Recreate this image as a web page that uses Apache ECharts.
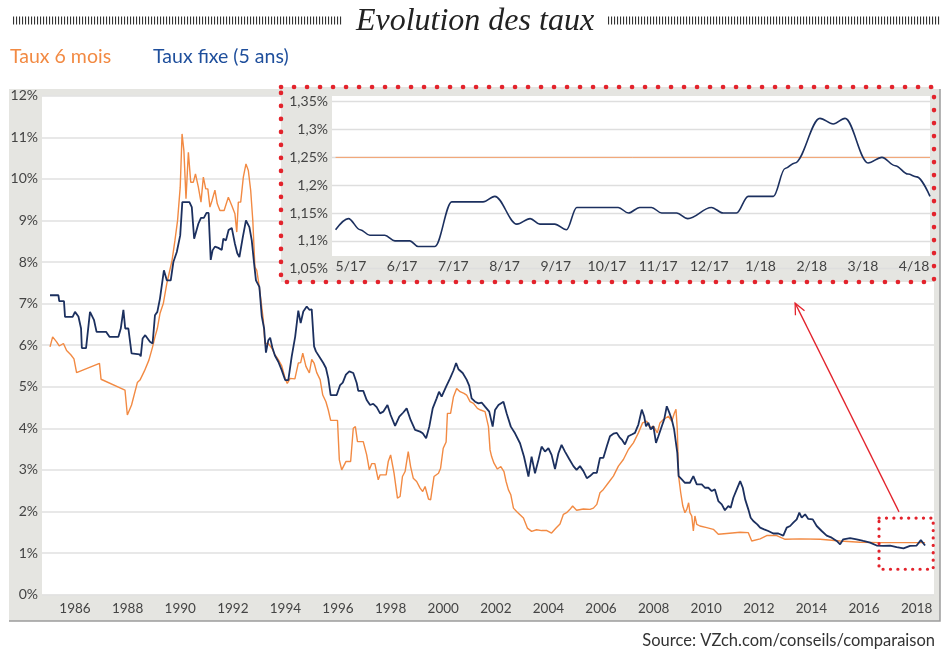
<!DOCTYPE html>
<html>
<head>
<meta charset="utf-8">
<script src="https://cdn.jsdelivr.net/npm/echarts@6/dist/echarts.min.js"></script>
<style>
  html, body { margin: 0; padding: 0; background: #fff; }
  #chart { width: 950px; height: 650px; }
</style>
</head>
<body>
<div id="chart"></div>
<script>
// Taux fixe (5 ans), decimal year -> %
const fixYears = [
  1985.05, 1985.37, 1985.40, 1985.58, 1985.62, 1985.91, 1986.00, 1986.13, 1986.23, 1986.26,
  1986.42, 1986.57, 1986.72, 1986.82, 1987.18, 1987.31, 1987.65, 1987.74, 1987.84, 1987.91,
  1988.03, 1988.15, 1988.45, 1988.50, 1988.57, 1988.67, 1988.85, 1988.95, 1989.04, 1989.13,
  1989.23, 1989.38, 1989.49, 1989.64, 1989.74, 1989.87, 1990.00, 1990.08, 1990.35, 1990.44,
  1990.53, 1990.60, 1990.69, 1990.79, 1990.90, 1991.00, 1991.08, 1991.16, 1991.23, 1991.32,
  1991.45, 1991.58, 1991.64, 1991.74, 1991.84, 1991.96, 1992.08, 1992.17, 1992.25, 1992.38,
  1992.50, 1992.63, 1992.72, 1992.81, 1992.88, 1993.01, 1993.10, 1993.19, 1993.26, 1993.35,
  1993.42, 1993.50, 1993.60, 1993.73, 1993.86, 1993.99, 1994.11, 1994.24, 1994.37, 1994.49,
  1994.58, 1994.68, 1994.81, 1994.91, 1995.00, 1995.09, 1995.16, 1995.32, 1995.44, 1995.54,
  1995.63, 1995.72, 1995.95, 1996.08, 1996.18, 1996.30, 1996.43, 1996.58, 1996.71, 1996.77,
  1996.96, 1997.09, 1997.22, 1997.34, 1997.47, 1997.60, 1997.72, 1997.88, 1998.00, 1998.17,
  1998.33, 1998.48, 1998.61, 1998.76, 1998.93, 1999.12, 1999.22, 1999.35, 1999.47, 1999.60,
  1999.75, 1999.84, 1999.94, 2000.11, 2000.26, 2000.39, 2000.49, 2000.58, 2000.74, 2000.89,
  2000.99, 2001.08, 2001.21, 2001.34, 2001.46, 2001.59, 2001.75, 2001.88, 2001.97, 2002.10,
  2002.29, 2002.41, 2002.57, 2002.73, 2002.92, 2003.07, 2003.24, 2003.36, 2003.49, 2003.62,
  2003.74, 2003.87, 2004.00, 2004.12, 2004.25, 2004.38, 2004.50, 2004.63, 2004.79, 2004.95,
  2005.07, 2005.20, 2005.33, 2005.46, 2005.58, 2005.71, 2005.84, 2005.96, 2006.09, 2006.22,
  2006.34, 2006.47, 2006.60, 2006.70, 2006.79, 2006.91, 2007.04, 2007.17, 2007.29, 2007.42,
  2007.55, 2007.64, 2007.71, 2007.80, 2007.89, 2007.99, 2008.09, 2008.18, 2008.31, 2008.40,
  2008.50, 2008.60, 2008.69, 2008.78, 2008.85, 2008.90, 2008.95, 2009.07, 2009.19, 2009.38,
  2009.51, 2009.64, 2009.83, 2009.95, 2010.08, 2010.21, 2010.33, 2010.46, 2010.59, 2010.71,
  2010.84, 2010.93, 2011.03, 2011.16, 2011.29, 2011.39, 2011.48, 2011.60, 2011.69, 2011.79,
  2011.94, 2012.05, 2012.20, 2012.36, 2012.55, 2012.74, 2012.93, 2013.06, 2013.19, 2013.31,
  2013.44, 2013.54, 2013.63, 2013.76, 2013.88, 2014.05, 2014.20, 2014.39, 2014.58, 2014.77,
  2014.96, 2015.09, 2015.21, 2015.47, 2015.72, 2015.97, 2016.23, 2016.48, 2016.74, 2016.99,
  2017.24, 2017.50, 2017.75, 2018.00, 2018.16, 2018.32
]
const fixRates = [
  7.20, 7.20, 7.06, 7.06, 6.68, 6.68, 6.80, 6.69, 6.40, 5.93,
  5.93, 6.80, 6.61, 6.32, 6.32, 6.20, 6.20, 6.40, 6.85, 6.40,
  6.40, 5.80, 5.78, 5.73, 6.16, 6.24, 6.08, 6.04, 6.72, 6.80,
  7.12, 7.80, 7.56, 7.56, 8.00, 8.24, 8.64, 9.44, 9.44, 9.32,
  8.56, 8.56, 8.92, 9.06, 9.06, 9.18, 9.18, 8.05, 8.28, 8.37,
  8.34, 8.29, 8.56, 8.52, 8.77, 8.82, 8.44, 8.21, 8.12, 8.60,
  9.00, 8.84, 8.52, 7.96, 7.56, 7.40, 6.70, 6.40, 5.82, 6.12,
  6.18, 5.95, 5.75, 5.60, 5.40, 5.16, 5.16, 5.73, 6.20, 6.83,
  6.53, 6.81, 6.93, 6.85, 6.86, 5.97, 5.85, 5.69, 5.57, 5.45,
  5.20, 4.80, 4.80, 5.04, 5.10, 5.29, 5.37, 5.33, 5.09, 4.90,
  4.90, 4.68, 4.56, 4.59, 4.51, 4.36, 4.40, 4.56, 4.32, 4.06,
  4.28, 4.38, 4.48, 4.20, 3.96, 3.92, 3.88, 3.76, 4.04, 4.48,
  4.72, 4.88, 4.76, 5.00, 5.20, 5.39, 5.57, 5.42, 5.33, 5.17,
  5.02, 4.72, 4.64, 4.60, 4.62, 4.52, 4.40, 4.04, 4.44, 4.56,
  4.64, 4.36, 4.04, 3.88, 3.64, 3.32, 2.84, 3.32, 2.92, 3.24,
  3.56, 3.44, 3.52, 3.36, 3.02, 3.40, 3.60, 3.44, 3.26, 3.09,
  3.00, 3.09, 2.97, 2.80, 2.85, 2.93, 2.93, 3.29, 3.29, 3.57,
  3.81, 3.87, 3.89, 3.79, 3.73, 3.61, 3.81, 3.85, 3.89, 4.09,
  4.45, 4.29, 4.05, 4.13, 3.97, 4.05, 3.65, 3.81, 4.05, 4.21,
  4.53, 4.37, 4.21, 3.97, 3.93, 3.41, 2.85, 2.77, 2.69, 2.69,
  2.85, 2.65, 2.65, 2.57, 2.57, 2.49, 2.53, 2.25, 2.17, 2.03,
  2.13, 2.09, 2.33, 2.53, 2.73, 2.57, 2.29, 2.05, 1.85, 1.77,
  1.69, 1.61, 1.57, 1.53, 1.47, 1.47, 1.42, 1.61, 1.65, 1.73,
  1.81, 1.97, 1.85, 1.93, 1.82, 1.81, 1.65, 1.53, 1.42, 1.37,
  1.29, 1.21, 1.33, 1.36, 1.33, 1.29, 1.25, 1.18, 1.17, 1.18,
  1.14, 1.11, 1.17, 1.18, 1.31, 1.18
]

// Taux 6 mois, decimal year -> %
const sixYears = [
  1985.05, 1985.15, 1985.30, 1985.40, 1985.56, 1985.68, 1985.84, 1985.96, 1986.06, 1986.93,
  1986.99, 1987.90, 1987.99, 1988.15, 1988.37, 1988.47, 1988.64, 1988.81, 1988.95, 1989.04,
  1989.13, 1989.23, 1989.36, 1989.49, 1989.59, 1989.69, 1989.80, 1989.90, 1990.00, 1990.07,
  1990.14, 1990.22, 1990.31, 1990.40, 1990.50, 1990.58, 1990.69, 1990.79, 1990.88, 1990.97,
  1991.05, 1991.13, 1991.21, 1991.32, 1991.41, 1991.51, 1991.67, 1991.83, 1991.96, 1992.08,
  1992.15, 1992.21, 1992.30, 1992.40, 1992.50, 1992.59, 1992.68, 1992.76, 1992.84, 1992.91,
  1992.97, 1993.07, 1993.16, 1993.22, 1993.35, 1993.48, 1993.60, 1993.73, 1993.86, 1993.99,
  1994.07, 1994.18, 1994.36, 1994.49, 1994.58, 1994.66, 1994.78, 1994.91, 1995.00, 1995.09,
  1995.19, 1995.32, 1995.42, 1995.54, 1995.63, 1995.72, 1995.98, 1996.05, 1996.14, 1996.30,
  1996.48, 1996.58, 1996.66, 1996.74, 1996.96, 1997.09, 1997.19, 1997.28, 1997.40, 1997.53,
  1997.60, 1997.83, 1997.91, 1998.00, 1998.13, 1998.26, 1998.36, 1998.45, 1998.55, 1998.67,
  1998.76, 1998.86, 1998.99, 1999.12, 1999.22, 1999.31, 1999.44, 1999.52, 1999.65, 1999.82,
  1999.90, 2000.00, 2000.11, 2000.16, 2000.28, 2000.39, 2000.51, 2000.64, 2000.79, 2000.89,
  2001.02, 2001.15, 2001.30, 2001.42, 2001.59, 2001.72, 2001.78, 2001.84, 2001.93, 2002.06,
  2002.19, 2002.31, 2002.39, 2002.48, 2002.57, 2002.67, 2002.79, 2002.92, 2003.05, 2003.20,
  2003.36, 2003.55, 2003.74, 2003.94, 2004.12, 2004.29, 2004.44, 2004.57, 2004.69, 2004.82,
  2004.92, 2005.07, 2005.33, 2005.58, 2005.71, 2005.84, 2005.96, 2006.09, 2006.28, 2006.47,
  2006.66, 2006.85, 2007.04, 2007.23, 2007.42, 2007.58, 2007.74, 2007.86, 2007.99, 2008.14,
  2008.24, 2008.37, 2008.56, 2008.69, 2008.79, 2008.85, 2008.90, 2008.95, 2009.03, 2009.11,
  2009.19, 2009.26, 2009.33, 2009.38, 2009.45, 2009.51, 2009.57, 2009.64, 2009.76, 2010.02,
  2010.27, 2010.46, 2010.78, 2011.29, 2011.60, 2011.73, 2012.05, 2012.30, 2012.68, 2013.00,
  2013.57, 2014.33, 2015.09, 2015.85, 2016.61, 2018.32
]
const sixRates = [
  5.96, 6.20, 6.08, 5.98, 6.04, 5.87, 5.77, 5.67, 5.34, 5.56,
  5.18, 4.92, 4.32, 4.56, 5.10, 5.16, 5.38, 5.64, 5.96, 6.20,
  6.40, 6.76, 7.01, 7.48, 7.76, 8.04, 8.52, 9.00, 9.80, 11.08,
  10.68, 9.52, 10.64, 9.92, 9.92, 10.12, 9.80, 9.44, 10.04, 9.76,
  9.76, 9.32, 9.48, 9.73, 9.40, 9.24, 9.24, 9.56, 9.36, 9.16,
  8.72, 9.44, 9.44, 10.04, 10.36, 10.20, 9.72, 9.00, 7.88, 7.80,
  7.56, 7.08, 6.60, 6.04, 6.04, 5.93, 5.77, 5.65, 5.50, 5.20,
  5.08, 5.20, 5.19, 5.57, 5.58, 5.81, 5.49, 5.33, 5.66, 5.57,
  5.34, 5.17, 4.80, 4.64, 4.44, 4.19, 4.19, 3.24, 3.00, 3.20,
  3.20, 4.00, 4.04, 3.68, 3.68, 3.36, 3.00, 3.15, 3.15, 2.76,
  2.88, 2.88, 3.20, 3.36, 2.92, 2.32, 2.36, 2.84, 2.96, 3.44,
  3.08, 2.80, 2.72, 2.56, 2.48, 2.60, 2.30, 2.28, 2.84, 2.92,
  3.04, 3.52, 3.67, 4.36, 4.36, 4.76, 4.96, 4.88, 4.84, 4.80,
  4.64, 4.60, 4.48, 4.44, 4.40, 4.04, 3.48, 3.32, 3.16, 3.02,
  3.08, 2.96, 2.72, 2.52, 2.40, 2.08, 2.00, 1.92, 1.84, 1.60,
  1.52, 1.56, 1.54, 1.54, 1.48, 1.60, 1.70, 1.93, 1.97, 2.05,
  2.13, 2.03, 2.06, 2.05, 2.08, 2.17, 2.45, 2.53, 2.69, 2.85,
  3.09, 3.25, 3.49, 3.65, 3.89, 4.13, 4.17, 4.01, 4.05, 3.89,
  4.13, 4.21, 4.29, 4.17, 4.37, 4.46, 3.97, 2.85, 2.45, 2.13,
  1.97, 2.05, 2.21, 1.97, 1.89, 1.53, 1.89, 1.69, 1.65, 1.61,
  1.57, 1.45, 1.47, 1.50, 1.49, 1.29, 1.34, 1.42, 1.42, 1.33,
  1.34, 1.33, 1.29, 1.26, 1.25, 1.25
]
const yearTicks = [1986, 1988, 1990, 1992, 1994, 1996, 1998, 2000, 2002, 2004, 2006, 2008, 2010, 2012, 2014, 2016, 2018]

// inset: months counted from 5/17 (0) to 4/18 (11)
const insetLabels = ['5/17', '6/17', '7/17', '8/17', '9/17', '10/17', '11/17', '12/17', '1/18', '2/18', '3/18', '4/18']
const insetTicks = [0, 1, 2, 3, 4, 5, 6, 7, 8, 9, 10, 11]
const insetMonths = [
  -0.30, -0.05, 0.18, 0.37, 0.66, 0.86, 1.15, 1.31, 1.64, 1.97,
  2.58, 2.81, 3.24, 3.50, 3.69, 3.98, 4.21, 4.41, 5.22, 5.42,
  5.64, 5.87, 6.07, 6.36, 6.58, 7.04, 7.27, 7.53, 7.76, 8.25,
  8.48, 8.67, 9.16, 9.42, 9.65, 10.10, 10.37, 10.63, 10.88, 11.05,
  11.31
]
const insetRates = [
  1.12, 1.14, 1.12, 1.11, 1.11, 1.10, 1.10, 1.09, 1.09, 1.17,
  1.17, 1.18, 1.13, 1.14, 1.13, 1.13, 1.12, 1.16, 1.16, 1.15,
  1.16, 1.16, 1.15, 1.15, 1.14, 1.16, 1.15, 1.15, 1.18, 1.18,
  1.23, 1.24, 1.32, 1.31, 1.32, 1.24, 1.25, 1.235, 1.22, 1.215,
  1.18
]
const insetSixMonths = [-0.30, 11.31]
const insetSixRates = [1.25, 1.25]

const FONT = 'Lato, "Noto Sans", sans-serif'
const ORANGE = '#f28a43'
const NAVY = '#1c305f'
const GREY = '#e5e5e1'
const RED = '#e3232c'

function pairs(xs, ys) {
  return xs.map((x, i) => [x, ys[i]])
}

function pct(v) {
  return String(+v.toFixed(2)).replace('.', ',') + '%'
}

const chartInstance = echarts.init(document.getElementById('chart'))

const option = {
  animation: false,
  title: [
    {
      text: 'Evolution des taux',
      left: 'center',
      top: 1,
      textStyle: { fontFamily: '"Liberation Serif", serif', fontStyle: 'italic', fontWeight: 'normal', fontSize: 32, color: '#222' }
    },
    {
      text: 'Source: VZch.com/conseils/comparaison',
      right: 10,
      top: 627,
      textStyle: { fontFamily: FONT, fontWeight: 'normal', fontSize: 16.5, color: '#333' }
    }
  ],
  legend: {
    left: 0,
    top: 42,
    icon: 'rect',
    itemWidth: 0,
    itemHeight: 0,
    itemGap: 37,
    selectedMode: false,
    textStyle: { fontFamily: FONT, fontSize: 19.5 },
    data: [
      { name: 'Taux 6 mois', textStyle: { color: ORANGE } },
      { name: 'Taux fixe (5 ans)', textStyle: { color: '#1f4f9c' } }
    ]
  },
  grid: [
    { left: 42, top: 95.7, width: 892, height: 498.9 },
    { left: 332, top: 101.7, width: 598, height: 167 }
  ],
  xAxis: [
    {
      gridIndex: 0,
      type: 'value',
      min: 1984.745,
      max: 2018.66,
      z: 1,
      axisLine: { show: false },
      axisTick: { show: false },
      splitLine: { show: false },
      axisLabel: {
        customValues: yearTicks,
        formatter: v => String(v),
        margin: 7,
        fontFamily: FONT,
        fontSize: 13.5,
        color: '#444'
      }
    },
    {
      gridIndex: 1,
      type: 'value',
      min: -0.37,
      max: 11.31,
      z: 3,
      axisLine: { show: false },
      axisTick: { show: false },
      splitLine: { show: false },
      axisLabel: {
        customValues: insetTicks,
        formatter: v => insetLabels[Math.round(v)],
        margin: -9,
        fontFamily: FONT,
        fontSize: 14,
        color: '#444'
      }
    }
  ],
  yAxis: [
    {
      gridIndex: 0,
      type: 'value',
      min: 0,
      max: 12,
      interval: 1,
      z: 1,
      axisLine: { show: false },
      axisTick: { show: false },
      splitLine: { lineStyle: { color: '#e1e1e1', width: 1.5 } },
      axisLabel: { formatter: '{value}%', margin: 4, fontFamily: FONT, fontSize: 14, color: '#444' }
    },
    {
      gridIndex: 1,
      type: 'value',
      min: 1.05,
      max: 1.35,
      interval: 0.05,
      z: 3,
      axisLine: { show: false },
      axisTick: { show: false },
      splitLine: { lineStyle: { color: '#dedede', width: 1.3 } },
      axisLabel: { formatter: pct, margin: 4, fontFamily: FONT, fontSize: 14, color: '#444' }
    }
  ],
  series: [
    {
      name: 'Taux 6 mois',
      type: 'line',
      xAxisIndex: 0,
      yAxisIndex: 0,
      z: 4,
      silent: true,
      showSymbol: false,
      lineStyle: { color: ORANGE, width: 1.4 },
      itemStyle: { color: ORANGE },
      data: pairs(sixYears, sixRates)
    },
    {
      name: 'Taux fixe (5 ans)',
      type: 'line',
      xAxisIndex: 0,
      yAxisIndex: 0,
      z: 5,
      silent: true,
      showSymbol: false,
      lineStyle: { color: NAVY, width: 1.8 },
      itemStyle: { color: NAVY },
      data: pairs(fixYears, fixRates)
    },
    {
      name: 'inset6',
      type: 'line',
      xAxisIndex: 1,
      yAxisIndex: 1,
      z: 6,
      silent: true,
      showSymbol: false,
      lineStyle: { color: '#f5a06a', width: 1 },
      data: pairs(insetSixMonths, insetSixRates)
    },
    {
      name: 'insetFix',
      type: 'line',
      xAxisIndex: 1,
      yAxisIndex: 1,
      z: 7,
      silent: true,
      showSymbol: false,
      smooth: 0.35,
      smoothMonotone: 'x',
      lineStyle: { color: NAVY, width: 1.6 },
      data: pairs(insetMonths, insetRates)
    }
  ],
  graphic: [
    { id: 'stripeL', type: 'line', z: 0, shape: { x1: 13, y1: 20.5, x2: 343, y2: 20.5 }, style: { stroke: '#333', lineWidth: 8, lineDash: [1.1, 1.9] } },
    { id: 'stripeR', type: 'line', z: 0, shape: { x1: 608, y1: 20.5, x2: 940, y2: 20.5 }, style: { stroke: '#333', lineWidth: 8, lineDash: [1.1, 1.9] } },
    { id: 'mainFrame', type: 'rect', z: 0, shape: { x: 9, y: 89, width: 931, height: 532 }, style: { fill: GREY } },
    { id: 'mainEdge', type: 'polyline', z: 0, shape: { points: [[940, 89], [940, 621], [9, 621]] }, style: { stroke: '#9c9c9c', lineWidth: 1.5, fill: null } },
    { id: 'mainPlot', type: 'rect', z: 0, shape: { x: 42, y: 95.7, width: 892, height: 498.9 }, style: { fill: '#fff' } },
    { id: 'insetFrame', type: 'rect', z: 2, shape: { x: 281, y: 87, width: 653, height: 195 }, style: { fill: GREY } },
    { id: 'insetPlot', type: 'rect', z: 2, shape: { x: 332, y: 96, width: 598, height: 160 }, style: { fill: '#fff' } },
    { id: 'insetBorder', type: 'rect', z: 8, shape: { x: 281, y: 87, width: 653, height: 195 }, style: { fill: null, stroke: RED, lineWidth: 4.6, lineDash: [0.1, 12.9], lineCap: 'round' } }
  ]
}

chartInstance.setOption(option)

// zoom box and arrow, placed in data space of the main chart
const toPx = p => chartInstance.convertToPixel({ gridIndex: 0 }, p)
const boxA = toPx([2016.57, 1.84])
const boxB = toPx([2018.63, 0.61])
const tail = toPx([2017.33, 1.99])
const tip = toPx([2013.38, 7.01])

const dx = tail[0] - tip[0]
const dy = tail[1] - tip[1]
const len = Math.hypot(dx, dy)
const ux = dx / len
const uy = dy / len
const headLen = 12
const ang = 25 * Math.PI / 180
function arm(s) {
  return [
    tip[0] + headLen * (ux * Math.cos(ang) - s * uy * Math.sin(ang)),
    tip[1] + headLen * (s * ux * Math.sin(ang) + uy * Math.cos(ang))
  ]
}

chartInstance.setOption({
  graphic: [
    {
      id: 'zoomBox', type: 'rect', z: 9,
      shape: { x: boxA[0], y: boxA[1], width: boxB[0] - boxA[0], height: boxB[1] - boxA[1] },
      style: { fill: null, stroke: RED, lineWidth: 3.2, lineDash: [0.1, 7.3], lineCap: 'round' }
    },
    {
      id: 'arrowLine', type: 'line', z: 9,
      shape: { x1: tail[0], y1: tail[1], x2: tip[0], y2: tip[1] },
      style: { stroke: RED, lineWidth: 1.3 }
    },
    {
      id: 'arrowHead', type: 'polyline', z: 9,
      shape: { points: [arm(1), tip, arm(-1)] },
      style: { stroke: RED, lineWidth: 1.3, fill: null }
    }
  ]
})
</script>
</body>
</html>
